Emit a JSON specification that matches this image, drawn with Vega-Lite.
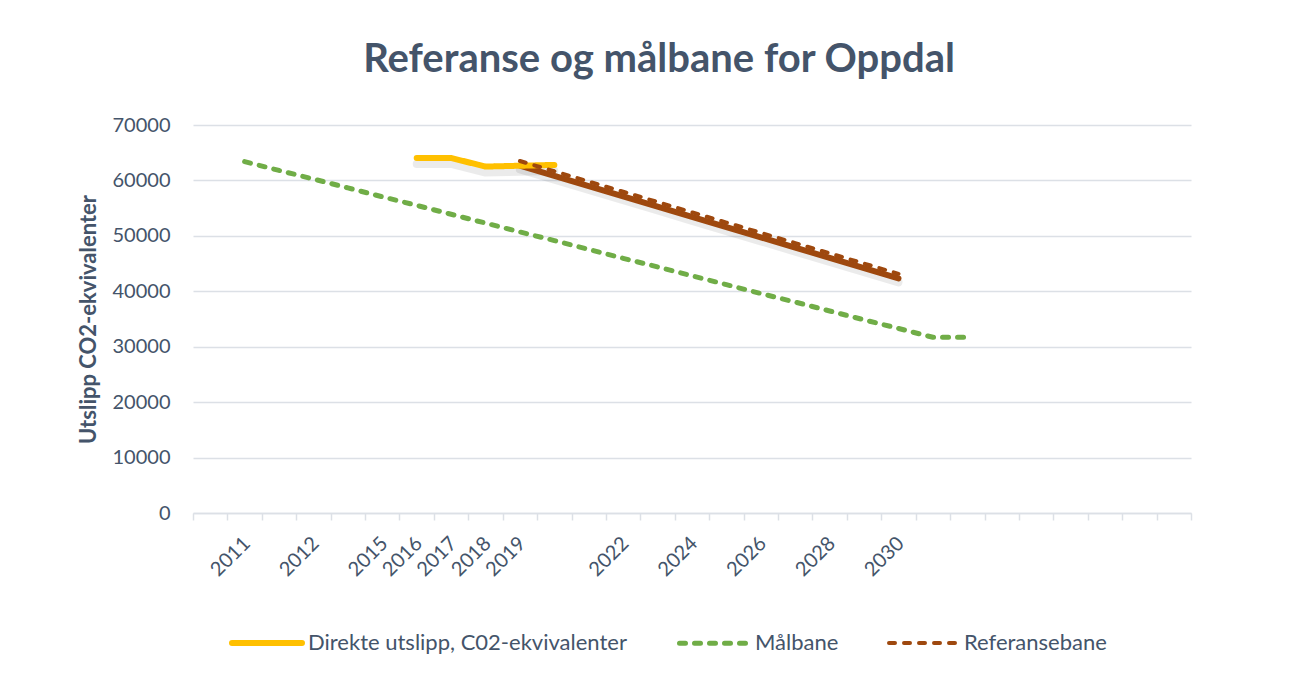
{
  "$schema": "https://vega.github.io/schema/vega-lite/v6.json",
  "width": 998,
  "height": 388,
  "autosize": {"type": "none"},
  "padding": {"left": 193, "top": 125, "right": 120, "bottom": 169},
  "background": "white",
  "title": {
    "text": "Referanse og målbane for Oppdal",
    "font": "Lato",
    "fontSize": 40,
    "fontWeight": "bold",
    "color": "#44546A",
    "anchor": "middle",
    "frame": "group",
    "dx": -33,
    "offset": 35
  },
  "config": {
    "view": {"stroke": null},
    "font": "Lato"
  },
  "datasets": {
    "d": [
      {"aar": "2011", "serie": "Målbane", "verdi": 63400},
      {"aar": "b2", "serie": "Målbane", "verdi": 61800},
      {"aar": "2012", "serie": "Målbane", "verdi": 60250},
      {"aar": "b4", "serie": "Målbane", "verdi": 58650},
      {"aar": "2015", "serie": "Målbane", "verdi": 57050},
      {"aar": "2016", "serie": "Målbane", "verdi": 55500},
      {"aar": "2017", "serie": "Målbane", "verdi": 53900},
      {"aar": "2018", "serie": "Målbane", "verdi": 52300},
      {"aar": "2019", "serie": "Målbane", "verdi": 50700},
      {"aar": "2020", "serie": "Målbane", "verdi": 49150},
      {"aar": "2021", "serie": "Målbane", "verdi": 47550},
      {"aar": "2022", "serie": "Målbane", "verdi": 45950},
      {"aar": "2023", "serie": "Målbane", "verdi": 44400},
      {"aar": "2024", "serie": "Målbane", "verdi": 42800},
      {"aar": "2025", "serie": "Målbane", "verdi": 41200},
      {"aar": "2026", "serie": "Målbane", "verdi": 39600},
      {"aar": "2027", "serie": "Målbane", "verdi": 38050},
      {"aar": "2028", "serie": "Målbane", "verdi": 36450},
      {"aar": "2029", "serie": "Målbane", "verdi": 34850},
      {"aar": "2030", "serie": "Målbane", "verdi": 33300},
      {"aar": "2031", "serie": "Målbane", "verdi": 31700},
      {"aar": "2032", "serie": "Målbane", "verdi": 31700},
      {"aar": "2016", "serie": "Direkte utslipp, C02-ekvivalenter", "verdi": 64050},
      {"aar": "2017", "serie": "Direkte utslipp, C02-ekvivalenter", "verdi": 64050},
      {"aar": "2018", "serie": "Direkte utslipp, C02-ekvivalenter", "verdi": 62500},
      {"aar": "2019", "serie": "Direkte utslipp, C02-ekvivalenter", "verdi": 62650},
      {"aar": "2020", "serie": "Direkte utslipp, C02-ekvivalenter", "verdi": 62800},
      {"aar": "2019", "serie": "Referansebane", "verdi": 63050},
      {"aar": "2020", "serie": "Referansebane", "verdi": 61200},
      {"aar": "2021", "serie": "Referansebane", "verdi": 59350},
      {"aar": "2022", "serie": "Referansebane", "verdi": 57500},
      {"aar": "2023", "serie": "Referansebane", "verdi": 55650},
      {"aar": "2024", "serie": "Referansebane", "verdi": 53800},
      {"aar": "2025", "serie": "Referansebane", "verdi": 51950},
      {"aar": "2026", "serie": "Referansebane", "verdi": 50100},
      {"aar": "2027", "serie": "Referansebane", "verdi": 48250},
      {"aar": "2028", "serie": "Referansebane", "verdi": 46400},
      {"aar": "2029", "serie": "Referansebane", "verdi": 44550},
      {"aar": "2030", "serie": "Referansebane", "verdi": 42700}
    ]
  },
  "data": {"name": "d"},
  "encoding": {
    "x": {
      "field": "aar",
      "type": "ordinal",
      "bandPosition": 0.5,
      "scale": {
        "type": "band",
        "paddingInner": 0,
        "paddingOuter": 0,
        "domain": ["b0", "2011", "b2", "2012", "b4", "2015", "2016", "2017", "2018", "2019", "2020", "2021", "2022", "2023", "2024", "2025", "2026", "2027", "2028", "2029", "2030", "2031", "2032", "b23", "b24", "b25", "b26", "b27", "b28"]
      },
      "axis": {
        "title": null,
        "labelExpr": "indexof(['2011','2012','2015','2016','2017','2018','2019','2022','2024','2026','2028','2030'], datum.value) >= 0 ? datum.value : ''",
        "labelAngle": -45,
        "labelAlign": "right",
        "labelBaseline": "middle",
        "labelFont": "Lato",
        "labelFontSize": 20,
        "labelColor": "#44546A",
        "labelPadding": 20,
        "labelOffset": 2,
        "labelOverlap": false,
        "tickBand": "extent",
        "ticks": true,
        "tickSize": 7,
        "tickColor": "#DCE0E6",
        "tickWidth": 1.5,
        "domainColor": "#DCE0E6",
        "domainWidth": 1.5,
        "grid": false
      }
    },
    "y": {
      "field": "verdi",
      "type": "quantitative",
      "scale": {"domain": [0, 70000], "nice": false, "zero": true},
      "axis": {
        "title": "Utslipp CO2-ekvivalenter",
        "titleFont": "Lato",
        "titleFontSize": 22,
        "titleFontWeight": "bold",
        "titleColor": "#44546A",
        "titleAngle": -90,
        "titleX": -105,
        "titleY": 194,
        "titleAlign": "center",
        "titleBaseline": "middle",
        "values": [0, 10000, 20000, 30000, 40000, 50000, 60000, 70000],
        "format": "d",
        "labelFont": "Lato",
        "labelFontSize": 20,
        "labelColor": "#44546A",
        "labelPadding": 23,
        "ticks": false,
        "domain": false,
        "grid": true,
        "gridColor": "#DCE0E6",
        "gridWidth": 1.5
      }
    }
  },
  "layer": [
    {
      "transform": [{"filter": "datum.serie !== 'Målbane'"}],
      "mark": {"type": "line", "color": "#000000", "opacity": 0.08, "strokeWidth": 8, "strokeCap": "round", "strokeJoin": "round", "yOffset": 6},
      "encoding": {"detail": {"field": "serie"}}
    },
    {
      "transform": [{"filter": "datum.serie === 'Referansebane'"}],
      "mark": {"type": "line", "color": "#9E480E", "strokeWidth": 6, "strokeCap": "round", "strokeJoin": "round", "yOffset": 2}
    },
    {
      "transform": [{"filter": "datum.serie !== 'Referansebane'"}],
      "mark": {"type": "line", "strokeCap": "round", "strokeJoin": "round"},
      "encoding": {
        "color": {
          "field": "serie",
          "type": "nominal",
          "scale": {"domain": ["Direkte utslipp, C02-ekvivalenter", "Målbane", "Referansebane"], "range": ["#FFC000", "#70AD47", "#9E480E"]},
          "legend": {
            "orient": "none",
            "legendX": 36,
            "legendY": 480,
            "direction": "horizontal",
            "title": null,
            "symbolType": "stroke",
            "symbolSize": 4900,
            "labelFont": "Lato",
            "labelFontSize": 22,
            "labelColor": "#44546A",
            "labelLimit": 0,
            "labelOffset": 3,
            "columnPadding": 42,
            "encode": {"symbols": {"update": {"strokeCap": {"value": "round"}}}}
          }
        },
        "strokeDash": {
          "field": "serie",
          "type": "nominal",
          "scale": {"domain": ["Direkte utslipp, C02-ekvivalenter", "Målbane", "Referansebane"], "range": [[1, 0], [6, 9], [6, 9]]}
        },
        "strokeWidth": {
          "field": "serie",
          "type": "nominal",
          "scale": {"domain": ["Direkte utslipp, C02-ekvivalenter", "Målbane", "Referansebane"], "range": [6, 4, 4]}
        }
      }
    },
    {
      "transform": [{"filter": "datum.serie === 'Referansebane'"}],
      "mark": {"type": "line", "strokeCap": "round", "strokeJoin": "round", "yOffset": -2.5},
      "encoding": {
        "color": {"field": "serie", "type": "nominal"},
        "strokeDash": {"field": "serie", "type": "nominal"},
        "strokeWidth": {"field": "serie", "type": "nominal"}
      }
    }
  ]
}
